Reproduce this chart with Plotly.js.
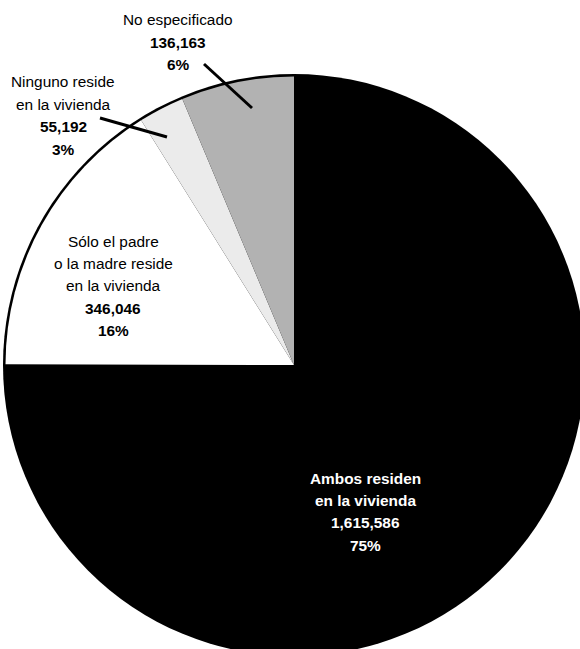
<!DOCTYPE html>
<html>
<head>
<meta charset="utf-8">
<script src="https://cdn.plot.ly/plotly-3.0.1.min.js"></script>
<style>
html,body{margin:0;padding:0;overflow:hidden;background:#fff;width:580px;height:649px;}
#chart{width:585px;height:656px;}
</style>
</head>
<body>
<div id="chart"></div>
<script>
// ---- data ----
const categories = ["Ambos residen<br>en la vivienda", "Sólo el padre<br>o la madre reside<br>en la vivienda", "Ninguno reside<br>en la vivienda", "No especificado"];
const values = [1615586, 346046, 55192, 136163];
const colors = ["#000000", "#ffffff", "#ebebeb", "#b2b2b2"];

const total = values.reduce((a, b) => a + b, 0);
const fmt = v => v.toLocaleString("en-US");
const pct = v => Math.round(100 * v / total) + "%";

// ---- geometry helpers (pixel -> paper) ----
const W = 585, H = 656, ML = 3, MT = 74, PW = 582, PH = 582;
const px = x => (x - ML) / PW;
const py = y => 1 - (y - MT) / PH;
const inset = 2.5 / PW;

const FONT = "'Liberation Sans', Arial, sans-serif";
const FSIZE = 15.4;
const STEP = 22.4;

const outline = {
  type: "pie", values: [total], labels: ["total"],
  marker: { colors: ["#000000"], line: { width: 0 } },
  textinfo: "none", hoverinfo: "skip", sort: false, showlegend: false,
  domain: { x: [0, 1], y: [0, 1] }
};
const pie = {
  type: "pie", values: values, labels: categories,
  marker: { colors: colors, line: { width: 0 } },
  textinfo: "none", hoverinfo: "skip", sort: false, direction: "clockwise", rotation: 0,
  showlegend: false,
  domain: { x: [inset, 1 - inset], y: [inset, 1 - inset] }
};

// label positions (pixels): center x, first-line center y
const labelPos = [[365, 478], [113, 241], [63, 82], [178, 20]];
const textColors = ["#ffffff", "#000000", "#000000", "#000000"];

const annotations = [];
categories.forEach((c, i) => {
  const lines = c.split("<br>").map(t => i === 0 ? "<b>" + t + "</b>" : t);
  lines.push("<b>" + fmt(values[i]) + "</b>");
  lines.push("<b>" + pct(values[i]) + "</b>");
  lines.forEach((t, k) => {
    annotations.push({
      xref: "paper", yref: "paper",
      x: px(labelPos[i][0]), y: py(labelPos[i][1] + k * STEP),
      xanchor: "center", yanchor: "middle", showarrow: false, align: "center",
      text: t,
      font: { family: FONT, size: FSIZE, color: textColors[i] }
    });
  });
});

const leaders = [[204, 64, 252, 108], [100, 118, 167, 137]];
const shapes = leaders.map(l => ({
  type: "line", xref: "paper", yref: "paper",
  x0: px(l[0]), y0: py(l[1]), x1: px(l[2]), y1: py(l[3]),
  line: { color: "#000000", width: 3 }
}));

Plotly.newPlot("chart", [outline, pie], {
  width: W, height: H,
  margin: { l: ML, r: W - ML - PW, t: MT, b: H - MT - PH, pad: 0 },
  paper_bgcolor: "#ffffff",
  annotations: annotations,
  shapes: shapes,
  showlegend: false
}, { displayModeBar: false, staticPlot: true });
</script>
</body>
</html>
